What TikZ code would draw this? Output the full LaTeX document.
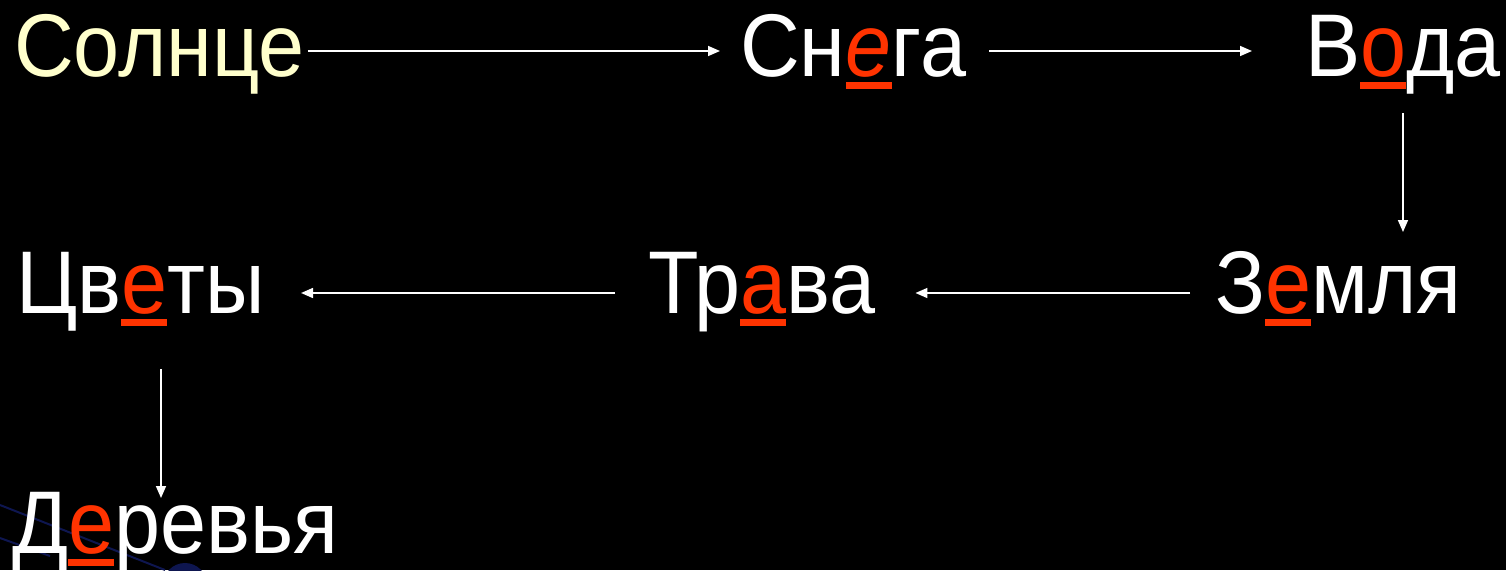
\documentclass[tikz,border=0pt]{standalone}
\usepackage{fontspec}
\setmainfont{Liberation Sans}[FakeStretch=0.93]
\usetikzlibrary{calc,arrows.meta}
\definecolor{ulred}{RGB}{255,51,0}
\definecolor{sunyellow}{RGB}{255,255,204}
\definecolor{deco}{RGB}{14,22,80}
\newcommand\redul[1]{\setbox0\hbox{#1}\rlap{\textcolor{ulred}{\rule[-13pt]{\wd0}{7pt}}}\textcolor{ulred}{\box0}}
\begin{document}
\begin{tikzpicture}[x=1pt,y=-1pt,
  word/.style={anchor=base west,inner sep=0pt,text=white,font=\fontsize{89}{100}\selectfont},
  arr/.style={draw=white,line width=1.6pt,-{Triangle[length=12pt,width=10pt]}}]
\fill[black] (0,0) rectangle (1506,570);
\useasboundingbox (0,0) rectangle (1506,570);
% background decoration
\draw[deco,line width=2pt] (0,505) -- (165,570);
\draw[deco,line width=2pt] (0,538) -- (50,556);
\fill[deco] (185,585) circle (22);
% words
\node[word,text=sunyellow] (solnce) at (14,76) {Солнце};
\node[word] (snega) at (740,76) {Сн\redul{\itshape е}га};
\node[word] (voda) at (1305,76) {В\redul{о}да};
\node[word] (zemlya) at (1215,313) {З\redul{е}мля};
\node[word] (trava) at (648,313) {Тр\redul{а}ва};
\node[word] (cvety) at (16,313) {Цв\redul{е}ты};
\node[word] (derevya) at (12,553) {Д\redul{е}ревья};
% arrows
\draw[arr] ([shift={(3,-25)}]solnce.base east) -- ([shift={(-20,-25)}]snega.base west);
\draw[arr] ([shift={(23,-25)}]snega.base east) -- ([shift={(-53,-25)}]voda.base west);
\draw[arr] ([shift={(0,37)}]voda.base) -- ($(voda.base |- zemlya.base)+(0,-81)$);
\draw[arr] ([shift={(-25,-20)}]zemlya.base west) -- ([shift={(40,-20)}]trava.base east);
\draw[arr] ([shift={(-33,-20)}]trava.base west) -- ([shift={(36,-20)}]cvety.base east);
\draw[arr] ([shift={(145,56)}]cvety.base west) -- ([shift={(149,-55)}]derevya.base west);
\end{tikzpicture}
\end{document}
